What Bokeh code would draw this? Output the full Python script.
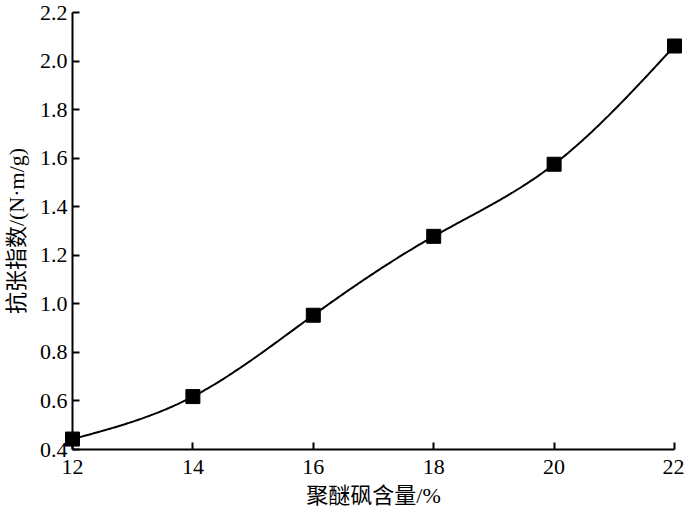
import numpy as np
from bokeh.plotting import figure
from bokeh.models import Range1d, FixedTicker, CustomJSTickFormatter
from bokeh.embed import file_html
from bokeh.resources import INLINE

# data
content = [12, 14, 16, 18, 20, 22]
tensile = [0.443, 0.618, 0.953, 1.278, 1.575, 2.062]
x_ticks = [12, 14, 16, 18, 20, 22]
y_ticks = [0.4, 0.6, 0.8, 1.0, 1.2, 1.4, 1.6, 1.8, 2.0, 2.2]
x_title = "聚醚砜含量/%"
y_title = "抗张指数/(N·m/g)"


def natural_spline(xs, ys, n=300):
    xs = np.asarray(xs, float)
    ys = np.asarray(ys, float)
    k = len(xs)
    h = np.diff(xs)
    A = np.zeros((k, k))
    b = np.zeros(k)
    A[0, 0] = 1
    A[-1, -1] = 1
    for i in range(1, k - 1):
        A[i, i - 1] = h[i - 1]
        A[i, i] = 2 * (h[i - 1] + h[i])
        A[i, i + 1] = h[i]
        b[i] = 6 * ((ys[i + 1] - ys[i]) / h[i] - (ys[i] - ys[i - 1]) / h[i - 1])
    M = np.linalg.solve(A, b)
    xx = np.linspace(xs[0], xs[-1], n)
    yy = np.empty_like(xx)
    for j, x in enumerate(xx):
        i = min(np.searchsorted(xs, x, side="right") - 1, k - 2)
        t1 = xs[i + 1] - x
        t0 = x - xs[i]
        yy[j] = (M[i] * t1 ** 3 + M[i + 1] * t0 ** 3) / (6 * h[i]) \
            + (ys[i] / h[i] - M[i] * h[i] / 6) * t1 \
            + (ys[i + 1] / h[i] - M[i + 1] * h[i] / 6) * t0
    return xx, yy


serif = "Liberation Serif, Noto Sans CJK SC"

p = figure(width=684, height=513, output_backend="svg", toolbar_location=None,
           min_border_left=68, min_border_right=10, min_border_top=12, min_border_bottom=64)
p.x_range = Range1d(12, 22)
p.y_range = Range1d(0.4, 2.2)
p.grid.visible = False
p.outline_line_color = None
p.background_fill_color = "white"
p.border_fill_color = "white"

xx, yy = natural_spline(content, tensile)
p.line(xx, yy, line_color="black", line_width=2, level="overlay")
p.scatter(content, tensile, marker="square", size=14, fill_color="black",
          line_color="black", level="overlay")

for ax, ticks in ((p.xaxis[0], x_ticks), (p.yaxis[0], y_ticks)):
    ax.ticker = FixedTicker(ticks=ticks)
    ax.axis_line_width = 2
    ax.axis_line_color = "black"
    ax.major_tick_line_width = 2
    ax.major_tick_line_color = "black"
    ax.major_tick_in = 7
    ax.major_tick_out = 0
    ax.minor_tick_line_color = None
    ax.major_label_text_font = serif
    ax.major_label_text_font_size = "22px"
    ax.major_label_text_color = "black"
    ax.axis_label_text_font = serif
    ax.axis_label_text_font_size = "22px"
    ax.axis_label_text_font_style = "normal"
    ax.axis_label_text_color = "black"

p.xaxis[0].axis_label = x_title
p.yaxis[0].axis_label = y_title
p.xaxis[0].major_label_standoff = 10
p.xaxis[0].axis_label_standoff = 6
p.yaxis[0].major_label_standoff = 5
p.yaxis[0].axis_label_standoff = 8
p.yaxis[0].formatter = CustomJSTickFormatter(code="return tick.toFixed(1);")

open("out.html", "w").write(file_html(p, INLINE))
